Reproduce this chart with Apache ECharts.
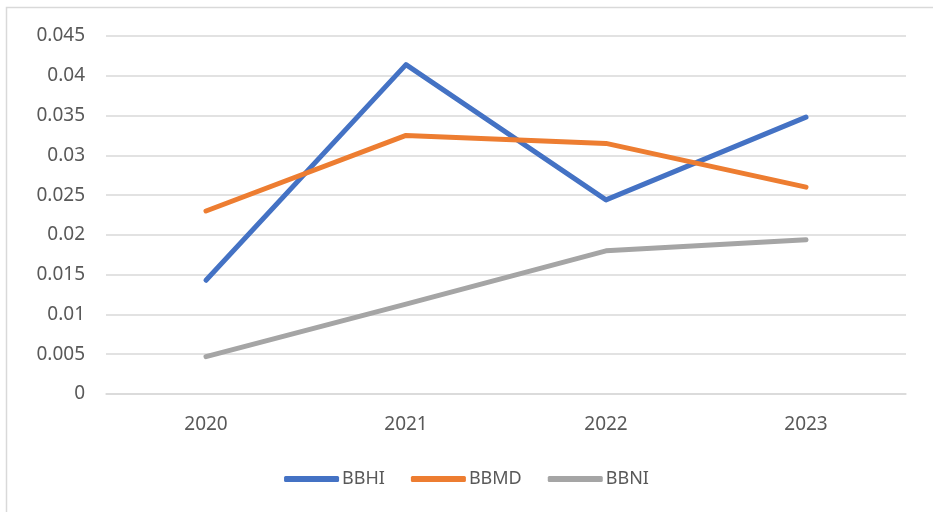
<!DOCTYPE html>
<html>
<head>
<meta charset="utf-8">
<script src="https://cdn.jsdelivr.net/npm/echarts@6/dist/echarts.min.js"></script>
<style>
  html, body { margin: 0; padding: 0; background: #fff; }
  #chart { width: 933px; height: 512px; }
</style>
</head>
<body>
<div id="chart"></div>
<script>
// data
var years = ['2020', '2021', '2022', '2023'];
var bbhi = [0.0143, 0.0414, 0.0244, 0.0348];
var bbmd = [0.0230, 0.0325, 0.0315, 0.0260];
var bbni = [0.0047, 0.0113, 0.0180, 0.0194];
var yTicks = ['0', '0.005', '0.01', '0.015', '0.02', '0.025', '0.03', '0.035', '0.04', '0.045'];

var labelFont = "'Noto Sans', sans-serif";

function lineSeries(name, data, color) {
  return {
    name: name,
    type: 'line',
    data: data,
    symbol: 'none',
    lineStyle: { color: color, width: 5, cap: 'round', join: 'round' },
    itemStyle: { color: color }
  };
}

var chart = echarts.init(document.getElementById('chart'));
var option = {
  animation: false,
  backgroundColor: '#fff',
  graphic: [{
    type: 'rect',
    shape: { x: 6.5, y: 7.5, width: 940, height: 520 },
    style: { fill: 'none', stroke: '#d9d9d9', lineWidth: 1.5 },
    silent: true
  }],
  grid: { left: 106, right: 27, top: 36, bottom: 118 },
  xAxis: {
    type: 'category',
    data: years,
    boundaryGap: true,
    axisLine: { lineStyle: { color: '#d9d9d9', width: 1.5 } },
    axisTick: { show: false },
    axisLabel: { color: '#595959', fontSize: 19, fontFamily: labelFont, margin: 21 }
  },
  yAxis: {
    type: 'value',
    min: 0,
    max: 0.045,
    interval: 0.005,
    axisLine: { show: false },
    axisTick: { show: false },
    splitLine: { lineStyle: { color: '#d9d9d9', width: 1.5 } },
    axisLabel: {
      color: '#595959', fontSize: 19, fontFamily: labelFont, margin: 21,
      formatter: function (v) {
        var i = Math.round(v / 0.005);
        return yTicks[i];
      }
    }
  },
  legend: {
    top: 465,
    left: 'center',
    icon: 'roundRect',
    itemWidth: 55,
    itemHeight: 6,
    itemGap: 26,
    textStyle: { color: '#595959', fontSize: 18, fontFamily: labelFont, padding: [0, 0, 0, -2] },
    data: ['BBHI', 'BBMD', 'BBNI']
  },
  series: [
    lineSeries('BBHI', bbhi, '#4472C4'),
    lineSeries('BBMD', bbmd, '#ED7D31'),
    lineSeries('BBNI', bbni, '#A5A5A5')
  ]
};
if (option && typeof option === 'object') {
  chart.setOption(option);
}
</script>
</body>
</html>
